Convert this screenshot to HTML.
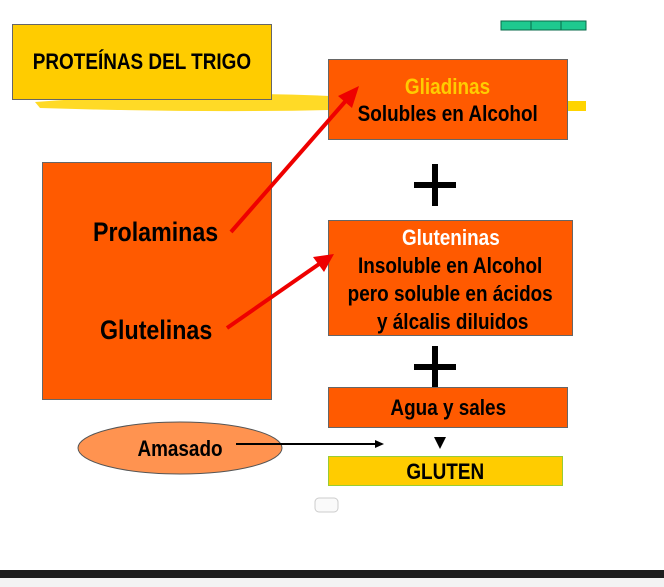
<!DOCTYPE html>
<html><head><style>
body{margin:0;width:664px;height:587px;position:relative;background:#fff;font-family:"Liberation Sans",sans-serif;overflow:hidden}
.b{position:absolute;box-sizing:border-box;border:1px solid #666;text-align:center;font-weight:bold;color:#000}
.n{display:inline-block;transform:scaleX(0.86);transform-origin:center;white-space:nowrap}
</style></head><body>
<svg style="position:absolute;left:0;top:0" width="664" height="587">
<path d="M35 102 Q200 90 330 96 L330 110 Q200 113 40 108 Z" fill="#ffd400" opacity="0.85"/>
<rect x="567" y="101" width="19" height="10" fill="#ffd400"/>
<rect x="501" y="21" width="85" height="9" fill="#1fc98f" stroke="#0a6a4a"/>
<line x1="531" y1="21" x2="531" y2="30" stroke="#0a6a4a"/><line x1="561" y1="21" x2="561" y2="30" stroke="#0a6a4a"/>
<rect x="0" y="570" width="664" height="8" fill="#1e1e1e"/>
<rect x="0" y="578" width="664" height="9" fill="#f3f3f3"/>
<rect x="315" y="498" width="23" height="14" rx="4" fill="#fafafa" stroke="#ccc"/>
<rect x="414" y="182" width="42" height="6" fill="#000"/><rect x="432" y="164" width="6" height="42" fill="#000"/>
<rect x="414" y="364" width="42" height="6" fill="#000"/><rect x="432" y="346" width="6" height="42" fill="#000"/>
</svg>
<div class="b" style="left:12px;top:24px;width:260px;height:76px;background:#ffcc00;font-size:22px;line-height:74px"><span class="n">PROTEÍNAS DEL TRIGO</span></div>
<div class="b" style="left:328px;top:59px;width:240px;height:81px;background:#ff5a00;font-size:22px;line-height:27px;padding-top:13px">
<span class="n" style="color:#ffcc00">Gliadinas</span><br><span class="n">Solubles en Alcohol</span></div>
<div class="b" style="left:42px;top:162px;width:230px;height:238px;background:#ff5a00"></div>
<div style="position:absolute;left:93px;top:217px;font-weight:bold;font-size:27px;transform:scaleX(0.86);transform-origin:left">Prolaminas</div>
<div style="position:absolute;left:100px;top:315px;font-weight:bold;font-size:27px;transform:scaleX(0.86);transform-origin:left">Glutelinas</div>
<div class="b" style="left:328px;top:220px;width:245px;height:116px;background:#ff5a00;font-size:22px;line-height:28px;padding-top:3px">
<span class="n" style="color:#fff">Gluteninas</span><br><span class="n">Insoluble en Alcohol</span><br><span class="n">pero soluble en ácidos</span><br><span class="n">&nbsp;y álcalis diluidos</span></div>
<div class="b" style="left:328px;top:387px;width:240px;height:41px;background:#ff5a00;font-size:22px;line-height:40px"><span class="n">Agua y sales</span></div>
<div class="b" style="left:328px;top:456px;width:235px;height:30px;border-color:#9c3;background:#ffcc00;font-size:22px;line-height:29px"><span class="n">GLUTEN</span></div>
<svg style="position:absolute;left:0;top:0" width="664" height="587">
<ellipse cx="180" cy="448" rx="102" ry="26" fill="#ff9350" stroke="#555"/>
<text x="180" y="456" text-anchor="middle" font-family="Liberation Sans" font-weight="bold" font-size="22" transform="translate(180 0) scale(0.86 1) translate(-180 0)">Amasado</text>
<line x1="236" y1="444" x2="376" y2="444" stroke="#000" stroke-width="2"/>
<polygon points="384,444 375,440 375,448" fill="#000"/>
<polygon points="434,437 446,437 440,449" fill="#000"/>
<line x1="231" y1="232" x2="350" y2="96" stroke="#e00" stroke-width="4"/>
<polygon points="359,86 338,96 352,108" fill="#e00"/>
<line x1="227" y1="328" x2="322" y2="262" stroke="#e00" stroke-width="4"/>
<polygon points="334,254 313,257 324,272" fill="#e00"/>
</svg>
</body></html>
